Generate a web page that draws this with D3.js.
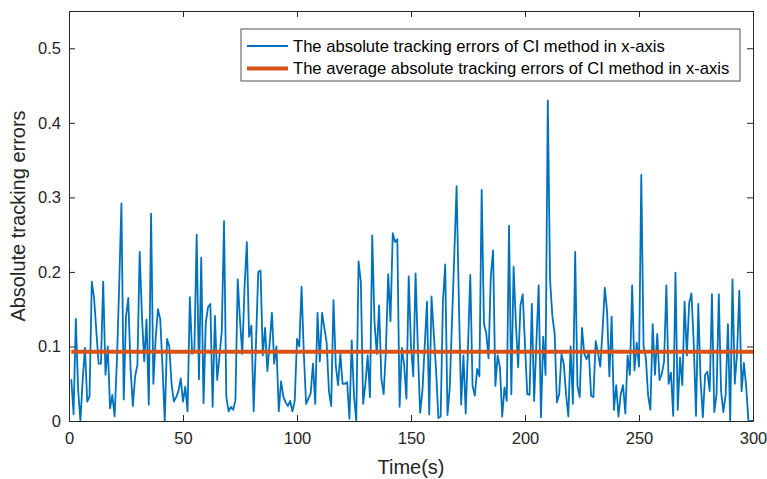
<!DOCTYPE html>
<html>
<head>
    <title>Absolute tracking errors</title>
    <script src="https://cdn.jsdelivr.net/npm/d3@7"></script>
    <style>
        body {
            margin: 0;
            background: #fff;
            font-family: "Liberation Sans", Arial, sans-serif;
        }
        .tick text {
            font-size: 16.5px;
            fill: #262626;
        }
        .axis-label {
            font-size: 20px;
            fill: #262626;
        }
        .legend-text {
            font-size: 16.6px;
            fill: #000;
        }
    </style>
</head>
<body>
    <svg width="767" height="479" id="mainsvg" style="display: block;"></svg>
    <script>
        // absolute tracking error, sampled at t = 1..300 s
        const errors = [
            0.056, 0.009, 0.137, 0.042, 0.000, 0.055, 0.098, 0.026, 0.033, 0.187,
            0.165, 0.120, 0.077, 0.077, 0.187, 0.062, 0.100, 0.017, 0.035, 0.006,
            0.080, 0.180, 0.292, 0.029, 0.140, 0.165, 0.070, 0.020, 0.060, 0.075,
            0.227, 0.140, 0.080, 0.136, 0.022, 0.278, 0.050, 0.110, 0.150, 0.137,
            0.073, 0.000, 0.110, 0.100, 0.049, 0.026, 0.032, 0.040, 0.057, 0.026,
            0.046, 0.013, 0.166, 0.090, 0.096, 0.250, 0.056, 0.219, 0.024, 0.132,
            0.153, 0.157, 0.019, 0.141, 0.055, 0.087, 0.120, 0.268, 0.032, 0.013,
            0.019, 0.015, 0.028, 0.190, 0.135, 0.090, 0.180, 0.240, 0.113, 0.128,
            0.013, 0.104, 0.200, 0.202, 0.088, 0.125, 0.067, 0.104, 0.145, 0.077,
            0.100, 0.013, 0.053, 0.033, 0.025, 0.020, 0.027, 0.013, 0.027, 0.110,
            0.100, 0.180, 0.090, 0.023, 0.030, 0.037, 0.077, 0.023, 0.145, 0.080,
            0.145, 0.125, 0.105, 0.040, 0.020, 0.162, 0.075, 0.048, 0.090, 0.050,
            0.050, 0.052, 0.003, 0.108, 0.033, 0.000, 0.214, 0.187, 0.023, 0.050,
            0.088, 0.032, 0.249, 0.132, 0.090, 0.155, 0.057, 0.036, 0.095, 0.197,
            0.134, 0.252, 0.240, 0.244, 0.019, 0.098, 0.075, 0.030, 0.194, 0.100,
            0.060, 0.198, 0.098, 0.011, 0.040, 0.100, 0.160, 0.009, 0.167, 0.117,
            0.068, 0.004, 0.006, 0.160, 0.210, 0.008, 0.045, 0.135, 0.224, 0.315,
            0.160, 0.022, 0.088, 0.010, 0.100, 0.196, 0.047, 0.034, 0.070, 0.060,
            0.310, 0.130, 0.118, 0.084, 0.194, 0.229, 0.047, 0.088, 0.072, 0.006,
            0.045, 0.027, 0.262, 0.036, 0.207, 0.131, 0.072, 0.155, 0.170, 0.102,
            0.036, 0.035, 0.157, 0.027, 0.105, 0.182, 0.005, 0.113, 0.062, 0.430,
            0.189, 0.141, 0.117, 0.025, 0.036, 0.090, 0.077, 0.036, 0.006, 0.100,
            0.023, 0.227, 0.047, 0.032, 0.125, 0.090, 0.083, 0.092, 0.034, 0.032,
            0.107, 0.092, 0.073, 0.120, 0.179, 0.147, 0.060, 0.140, 0.015, 0.048,
            0.006, 0.036, 0.048, 0.010, 0.088, 0.062, 0.182, 0.068, 0.105, 0.073,
            0.330, 0.100, 0.085, 0.034, 0.015, 0.130, 0.062, 0.117, 0.055, 0.063,
            0.080, 0.182, 0.050, 0.065, 0.007, 0.199, 0.015, 0.085, 0.048, 0.160,
            0.088, 0.158, 0.171, 0.105, 0.007, 0.157, 0.055, 0.005, 0.062, 0.066,
            0.040, 0.170, 0.012, 0.035, 0.170, 0.040, 0.012, 0.035, 0.130, 0.000,
            0.190, 0.050, 0.090, 0.175, 0.040, 0.078, 0.046, 0.000, 0.000, 0.000
        ];
        const times = errors.map((d, i) => i + 1);
        const avgError = 0.093;

        const xTicks = [0, 50, 100, 150, 200, 250, 300];
        const yTicks = [0, 0.1, 0.2, 0.3, 0.4, 0.5];
        const legendLabels = [
            'The absolute tracking errors of CI method in x-axis',
            'The average absolute tracking errors of CI method in x-axis'
        ];

        const svg = d3.select('#mainsvg');
        const width = +svg.attr('width');
        const height = +svg.attr('height');
        const margin = { top: 11, right: 14, bottom: 58, left: 69 };
        const innerWidth = width - margin.left - margin.right;
        const innerHeight = height - margin.top - margin.bottom;

        const blue = '#0072BD';
        const orange = '#D95319';
        const axisColor = '#262626';

        const g = svg.append('g')
            .attr('transform', `translate(${margin.left}, ${margin.top})`);

        const xScale = d3.scaleLinear().domain([0, 300]).range([0, innerWidth]);
        const yScale = d3.scaleLinear().domain([0, 0.55]).range([innerHeight, 0]);

        // data lines
        const line = d3.line()
            .x((d, i) => xScale(times[i]))
            .y(d => yScale(d));

        g.append('path')
            .datum(errors)
            .attr('fill', 'none')
            .attr('stroke', blue)
            .attr('stroke-width', 1.8)
            .attr('stroke-linejoin', 'round')
            .attr('d', line);

        g.append('line')
            .attr('x1', xScale(times[0]))
            .attr('x2', xScale(times[times.length - 1]))
            .attr('y1', yScale(avgError))
            .attr('y2', yScale(avgError))
            .attr('stroke', orange)
            .attr('stroke-width', 4);

        // axes, ticks pointing inward like matlab
        const styleAxis = sel => {
            sel.select('.domain').attr('stroke', axisColor).attr('stroke-width', 1);
            sel.selectAll('.tick line').attr('stroke', axisColor).attr('stroke-width', 1);
            sel.selectAll('text').attr('font-family', null).attr('font-size', null);
        };

        g.append('g')
            .attr('transform', `translate(0, ${innerHeight})`)
            .call(d3.axisBottom(xScale).tickValues(xTicks).tickSize(-6).tickSizeOuter(0).tickPadding(11))
            .call(styleAxis);

        g.append('g')
            .call(d3.axisLeft(yScale).tickValues(yTicks).tickFormat(d3.format('')).tickSize(-6).tickSizeOuter(0).tickPadding(8))
            .call(styleAxis);

        // top and right box edges, ticks only
        g.append('g')
            .call(d3.axisTop(xScale).tickValues(xTicks).tickSize(-6).tickSizeOuter(0))
            .call(styleAxis)
            .call(a => a.selectAll('text').remove());

        g.append('g')
            .attr('transform', `translate(${innerWidth}, 0)`)
            .call(d3.axisRight(yScale).tickValues(yTicks).tickSize(-6).tickSizeOuter(0))
            .call(styleAxis)
            .call(a => a.selectAll('text').remove());

        // axis labels
        g.append('text')
            .attr('class', 'axis-label')
            .attr('x', innerWidth / 2)
            .attr('y', innerHeight + 53)
            .attr('text-anchor', 'middle')
            .text('Time(s)');

        g.append('text')
            .attr('class', 'axis-label')
            .attr('transform', 'rotate(-90)')
            .attr('x', -innerHeight / 2)
            .attr('y', -margin.left + 25)
            .attr('text-anchor', 'middle')
            .text('Absolute tracking errors');

        // legend
        const legend = svg.append('g').attr('transform', 'translate(241, 29)');
        legend.append('rect')
            .attr('width', 499)
            .attr('height', 52)
            .attr('fill', '#fff')
            .attr('stroke', axisColor)
            .attr('stroke-width', 0.8);

        const legendColors = [blue, orange];
        const legendWidths = [1.8, 4];
        legendLabels.forEach((label, i) => {
            const yPos = 17 + i * 22.5;
            legend.append('line')
                .attr('x1', 6).attr('x2', 47)
                .attr('y1', yPos).attr('y2', yPos)
                .attr('stroke', legendColors[i])
                .attr('stroke-width', legendWidths[i]);
            legend.append('text')
                .attr('class', 'legend-text')
                .attr('x', 52)
                .attr('y', yPos)
                .attr('dy', '0.35em')
                .text(label);
        });
    </script>
</body>
</html>
